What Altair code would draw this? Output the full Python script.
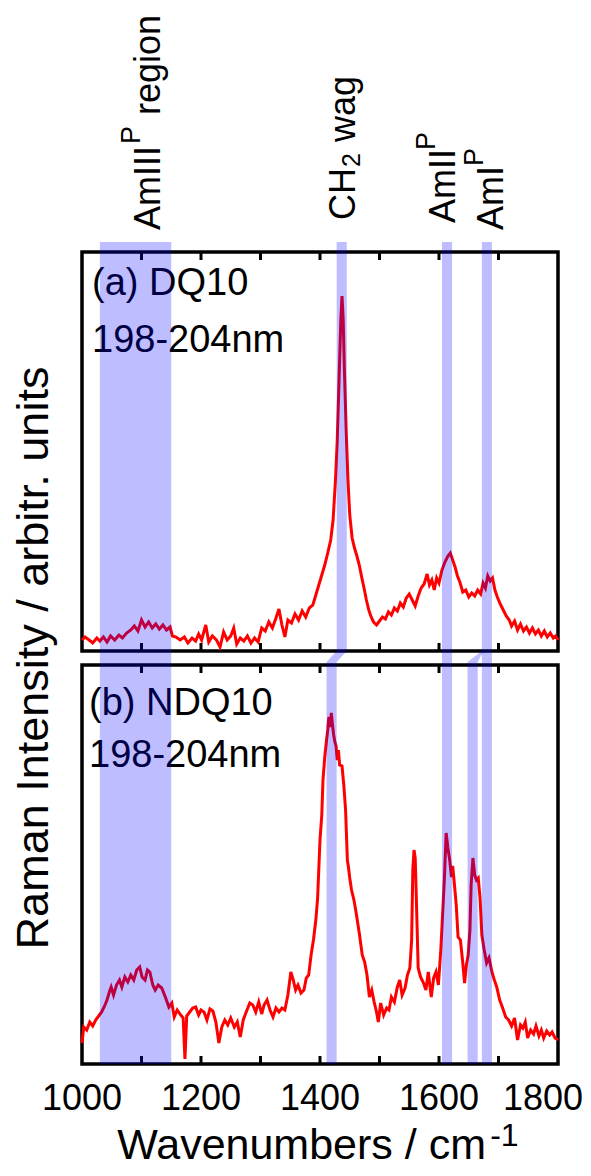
import altair as alt
import pandas as pd

# ---------------- data ----------------
# (a) DQ10 spectrum (wavenumber, intensity in arbitrary units)
dq_x = [1000, 1005, 1012, 1018, 1025, 1030, 1036, 1042, 1048, 1055, 1062, 1068, 1075, 1082,
        1088, 1094, 1100, 1106, 1112, 1118, 1124, 1130, 1136, 1142, 1148, 1152, 1158, 1165,
        1172, 1178, 1185, 1191, 1196, 1201, 1208, 1213, 1219, 1226, 1232, 1238, 1244, 1250,
        1255, 1260, 1266, 1272, 1278, 1284, 1290, 1296, 1302, 1308, 1314, 1320, 1326, 1331,
        1336, 1341, 1346, 1352, 1358, 1364, 1370, 1376, 1382, 1388, 1393, 1398, 1403, 1408,
        1413, 1418, 1422, 1426, 1429, 1432, 1435, 1437, 1439, 1441, 1444, 1447, 1450, 1454,
        1458, 1462, 1466, 1470, 1474, 1478, 1482, 1486, 1490, 1495, 1500, 1505, 1510, 1515,
        1520, 1525, 1530, 1535, 1540, 1545, 1550, 1555, 1560, 1565, 1570, 1575, 1580, 1584,
        1588, 1592, 1596, 1600, 1605, 1610, 1615, 1619, 1623, 1627, 1631, 1635, 1640, 1645,
        1650, 1655, 1660, 1665, 1670, 1674, 1678, 1682, 1686, 1690, 1694, 1698, 1703, 1708,
        1713, 1718, 1722, 1727, 1732, 1737, 1742, 1747, 1752, 1757, 1762, 1767, 1772, 1777,
        1782, 1787, 1792, 1796, 1800]
dq_y = [11, 14, 11, 8, 13, 10, 14, 9, 15, 11, 16, 13, 18, 21,
        25, 20, 31, 24, 29, 23, 27, 22, 26, 21, 24, 15, 14, 11,
        14, 8, 13, 10, 17, 11, 26, 9, 15, 11, 4, 19, 11, 15,
        23, 7, 13, 10, 15, 8, 13, 9, 23, 20, 29, 23, 33, 42,
        26, 14, 31, 28, 37, 31, 40, 34, 43, 46, 56, 66, 76, 86,
        98, 111, 131, 171, 211, 271, 331, 355, 331, 281, 221, 171, 136, 113,
        103, 95, 86, 74, 63, 51, 41, 34, 29, 26, 30, 34, 32, 39,
        36, 43, 40, 48, 44, 53, 57, 51, 45, 55, 63, 67, 77, 66,
        71, 61, 73, 68, 81, 89, 95, 98, 91, 84, 75, 69, 59, 61,
        54, 58, 55, 61, 57, 68, 63, 75, 70, 73, 61, 54, 47, 41,
        35, 31, 25, 30, 21, 27, 20, 24, 18, 23, 17, 21, 15, 20,
        14, 18, 13, 15, 11]

# (b) NDQ10 spectrum
ndq_x = [1000, 1003, 1008, 1013, 1018, 1023, 1028, 1033, 1038, 1042, 1046, 1049, 1053, 1058,
         1063, 1067, 1072, 1077, 1082, 1087, 1092, 1097, 1101, 1106, 1110, 1114, 1119, 1123,
         1128, 1134, 1140, 1146, 1151, 1155, 1160, 1166, 1170, 1173, 1176, 1181, 1186, 1191,
         1196, 1200, 1205, 1210, 1215, 1220, 1225, 1230, 1235, 1240, 1245, 1250, 1256, 1261,
         1266, 1271, 1276, 1282, 1287, 1292, 1297, 1302, 1306, 1311, 1316, 1321, 1326, 1331,
         1336, 1341, 1346, 1351, 1355, 1359, 1363, 1368, 1373, 1377, 1381, 1385, 1389, 1393,
         1396, 1400, 1403, 1405, 1408, 1411, 1413, 1415, 1417, 1419, 1421, 1423, 1425, 1427,
         1429, 1431, 1433, 1437, 1440, 1443, 1446, 1448, 1450, 1453, 1457, 1460, 1466, 1471,
         1475, 1479, 1483, 1487, 1491, 1495, 1498, 1502, 1507, 1512, 1516, 1520, 1525, 1530,
         1534, 1538, 1543, 1547, 1551, 1554, 1556, 1558, 1560, 1562, 1565, 1569, 1574, 1578,
         1582, 1587, 1591, 1595, 1599, 1603, 1606, 1609, 1612, 1615, 1618, 1621, 1623, 1626,
         1629, 1632, 1636, 1640, 1643, 1646, 1649, 1652, 1654, 1657, 1660, 1663, 1666, 1669,
         1672, 1676, 1680, 1684, 1689, 1693, 1697, 1702, 1707, 1712, 1717, 1722, 1727, 1732,
         1737, 1741, 1745, 1749, 1754, 1759, 1763, 1768, 1772, 1776, 1781, 1786, 1790, 1795,
         1800]
ndq_y = [21, 37, 34, 42, 38, 44, 48, 52, 58, 64, 72, 77, 69, 79,
         84, 77, 87, 82, 89, 84, 94, 97, 87, 84, 94, 92, 79, 74,
         79, 76, 67, 57, 61, 47, 54, 49, 46, 5, 48, 52, 56, 57,
         49, 54, 52, 44, 55, 53, 42, 21, 37, 44, 39, 46, 37, 42,
         27, 44, 52, 61, 59, 52, 62, 50, 59, 64, 54, 47, 56, 52,
         56, 54, 69, 92, 84, 74, 79, 71, 74, 86, 89, 109, 124, 144,
         166, 224, 249, 284, 307, 324, 334, 347, 337, 351, 339, 329, 322, 318,
         304, 314, 299, 298, 279, 254, 204, 196, 186, 174, 164, 154, 131, 109,
         102, 89, 67, 74, 62, 52, 42, 61, 49, 56, 54, 67, 62, 77,
         84, 69, 76, 89, 96, 124, 194, 214, 206, 164, 96, 87, 81, 74,
         92, 67, 86, 92, 79, 114, 149, 184, 231, 216, 204, 187, 198, 179,
         159, 127, 124, 101, 81, 99, 109, 134, 179, 206, 189, 184, 186, 166,
         129, 114, 101, 106, 92, 84, 77, 64, 56, 47, 44, 38, 46, 24,
         39, 36, 42, 26, 34, 30, 38, 28, 34, 26, 33, 29, 32, 26,
         24]

tick_values = [1100, 1200, 1300, 1400, 1500, 1600, 1700]
label_values = [1000, 1200, 1400, 1600, 1800]

# highlighted bands (wavenumber ranges)
both_lo, both_hi = [1030, 1605, 1672], [1150, 1622, 1689]      # same in (a) and (b)
top_only_lo, top_only_hi = [1428], [1445]                       # (a) only
bot_only_lo, bot_only_hi = [1411, 1648], [1428, 1665]           # (b) only
from_lo, from_hi = [1428, 1672], [1445, 1675]                   # where (b) bands branch off

# ---------------- layout ----------------
W = 476
PH = 399            # height of one panel
GAP = 14            # gap between panels
H = 2 * PH + GAP    # whole plot height
OFF_A = PH + GAP    # vertical offset of spectrum (a) in the shared scale
FONT = "Liberation Sans"
BAND = dict(color="#0000ff", opacity=0.26)

xscale = alt.Scale(domain=[1000, 1800], nice=False, zero=False)
yscale = alt.Scale(domain=[0, H], nice=False, zero=False)


def X(field):
    return alt.X(field, type="quantitative", scale=xscale, axis=None)


def one(**cols):
    return pd.DataFrame({k: [v] for k, v in cols.items()})


layers = []

# panel frames
for top_px in (0, OFF_A):
    layers.append(alt.Chart(one(a=1000, b=1800)).mark_rect(
        filled=False, color="black", strokeWidth=3.5).encode(
        x=X("a"), x2="b", y=alt.value(top_px), y2=alt.value(top_px + PH)))

# inward ticks on every frame edge
tdf = pd.DataFrame({"t": tick_values})
for y0 in (0, PH - 8, OFF_A, H - 8):
    layers.append(alt.Chart(tdf).mark_rule(color="black", strokeWidth=3).encode(
        x=X("t"), y=alt.value(y0), y2=alt.value(y0 + 8)))

# tick labels
ldf = pd.DataFrame({"v": label_values})
layers.append(alt.Chart(ldf).transform_filter("datum.v < 1800").mark_text(
    y=H + 46, fontSize=36, align="center", baseline="alphabetic", color="black"
).encode(x=X("v"), text=alt.Text("v:Q", format="d")))
layers.append(alt.Chart(ldf).transform_filter("datum.v == 1800").mark_text(
    y=H + 46, dx=25, fontSize=36, align="right", baseline="alphabetic", color="black"
).encode(x=X("v"), text=alt.Text("v:Q", format="d")))

# panel texts
def txt(s, px, py, size=38):
    return alt.Chart(one(s=s)).mark_text(
        x=px, y=py, fontSize=size, align="left", baseline="alphabetic", color="black"
    ).encode(text="s:N")

layers += [txt("(a) DQ10", 10, 43), txt("198-204nm", 10, 100),
           txt("(b) NDQ10", 7, OFF_A + 50), txt("198-204nm", 7, OFF_A + 102)]

# spectra
dq = pd.DataFrame({"x": dq_x, "v": dq_y})
ndq = pd.DataFrame({"x": ndq_x, "v": ndq_y})
layers.append(alt.Chart(dq).transform_calculate(p=f"datum.v + {OFF_A}").mark_line(
    color="#ff0000", strokeWidth=3).encode(x=X("x"), y=alt.Y("p:Q", scale=yscale, axis=None)))
layers.append(alt.Chart(ndq).mark_line(color="#ff0000", strokeWidth=3).encode(
    x=X("x"), y=alt.Y("v:Q", scale=yscale, axis=None)))

# bands
def bands(lo, hi, y0, y1):
    return alt.Chart(pd.DataFrame({"lo": lo, "hi": hi})).mark_rect(**BAND).encode(
        x=X("lo"), x2="hi", y=alt.value(y0), y2=alt.value(y1))

layers.append(bands(both_lo, both_hi, -10, H))
layers.append(bands(top_only_lo, top_only_hi, -10, PH))
layers.append(bands(bot_only_lo, bot_only_hi, PH + 11, H))
rows = []
for i in range(len(bot_only_lo)):
    rows.append({"g": i, "p": H - PH, "lo": from_lo[i], "hi": from_hi[i]})
    rows.append({"g": i, "p": H - PH - 11, "lo": bot_only_lo[i], "hi": bot_only_hi[i]})
layers.append(alt.Chart(pd.DataFrame(rows)).mark_area(orient="horizontal", **BAND).encode(
    y=alt.Y("p:Q", scale=yscale, axis=None), x=X("lo"), x2="hi", detail="g:N"))

# vertical peak labels above the plot
def vlabel(s, xv, py, size):
    return alt.Chart(one(s=s, x=xv)).mark_text(
        y=py, fontSize=size, angle=270, align="left", baseline="alphabetic", color="black"
    ).encode(x=X("x"), text="s:N")

layers += [
    vlabel("AmIII", 1131, -22, 36), vlabel("P", 1097, -108, 27), vlabel("region", 1131, -137, 36),
    vlabel("CH", 1459, -32, 36), vlabel("2", 1467, -85, 25), vlabel("wag", 1459, -110, 36),
    vlabel("AmII", 1627, -29, 36), vlabel("P", 1593, -102, 27),
    vlabel("AmI", 1708, -22, 36), vlabel("P", 1674, -86, 27),
]

# axis titles
layers.append(alt.Chart(one(s="Raman Intensity / arbitr. units")).mark_text(
    x=-34, y=406, fontSize=45, angle=270, align="center", baseline="alphabetic", color="black"
).encode(text="s:N"))
layers.append(alt.Chart(one(s="Wavenumbers / cm", x=1679)).mark_text(
    y=H + 95, fontSize=43, align="right", baseline="alphabetic", color="black"
).encode(x=X("x"), text="s:N"))
layers.append(alt.Chart(one(s="-1", x=1686)).mark_text(
    y=H + 82, fontSize=32, align="left", baseline="alphabetic", color="black"
).encode(x=X("x"), text="s:N"))

chart = alt.layer(*layers).properties(
    width=W, height=H,
    autosize=alt.AutoSizeParams(type="none"),
    padding={"left": 74, "top": 244, "right": 25, "bottom": 104},
).configure(font=FONT).configure_view(strokeWidth=0)

chart.save("out.html", embed_options={"renderer": "svg", "actions": False})
